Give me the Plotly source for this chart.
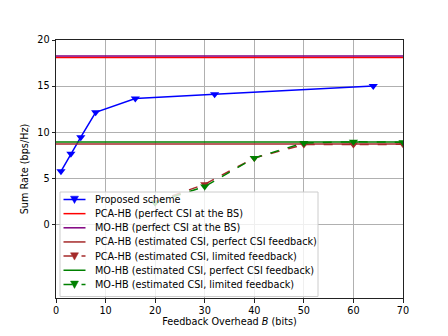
import plotly.graph_objects as go

# Data
proposed_x = [1, 3, 5, 8, 16, 32, 64]
proposed_y = [5.75, 7.65, 9.45, 12.15, 13.65, 14.1, 15.0]

pca_perfect = 18.1
mo_perfect = 18.27
pca_est_perfect = 8.72
mo_est_perfect = 8.93

limited_x = [20, 30, 40, 50, 60, 70]
pca_limited_y = [2.4, 4.35, 7.2, 8.65, 8.65, 8.68]
mo_limited_y = [2.35, 4.1, 7.2, 8.83, 8.95, 8.9]

x_range = [0, 70]
y_range = [-8, 20]
x_ticks = [0, 10, 20, 30, 40, 50, 60, 70]
y_ticks = [0, 5, 10, 15, 20]

BLUE, RED, PURPLE, BROWN, GREEN = "#0000ff", "#ff0000", "#800080", "#a52a2a", "#008000"
FS = 9.7

fig = go.Figure()
tri = dict(symbol="triangle-down", size=8)

series = [
    ("Proposed scheme", BLUE, "solid", True),
    ("PCA-HB (perfect CSI at the BS)", RED, "solid", False),
    ("MO-HB (perfect CSI at the BS)", PURPLE, "solid", False),
    ("PCA-HB (estimated CSI, perfect CSI feedback)", BROWN, "solid", False),
    ("PCA-HB (estimated CSI, limited feedback)", BROWN, "dash", True),
    ("MO-HB (estimated CSI, perfect CSI feedback)", GREEN, "solid", False),
    ("MO-HB (estimated CSI, limited feedback)", GREEN, "dash", True),
]

fig.add_trace(go.Scatter(x=proposed_x, y=proposed_y, mode="lines+markers",
                         name=series[0][0], line=dict(color=BLUE, width=1.5),
                         marker=dict(color=BLUE, **tri)))
fig.add_trace(go.Scatter(x=x_range, y=[pca_perfect] * 2, mode="lines",
                         name=series[1][0], line=dict(color=RED, width=1.5)))
fig.add_trace(go.Scatter(x=x_range, y=[mo_perfect] * 2, mode="lines",
                         name=series[2][0], line=dict(color=PURPLE, width=1.5)))
fig.add_trace(go.Scatter(x=x_range, y=[pca_est_perfect] * 2, mode="lines",
                         name=series[3][0], line=dict(color=BROWN, width=1.5)))
fig.add_trace(go.Scatter(x=limited_x, y=pca_limited_y, mode="lines+markers",
                         name=series[4][0], line=dict(color=BROWN, width=1.5, dash="dash"),
                         marker=dict(color=BROWN, **tri)))
fig.add_trace(go.Scatter(x=x_range, y=[mo_est_perfect] * 2, mode="lines",
                         name=series[5][0], line=dict(color=GREEN, width=1.5)))
fig.add_trace(go.Scatter(x=limited_x, y=mo_limited_y, mode="lines+markers",
                         name=series[6][0], line=dict(color=GREEN, width=1.5, dash="dash"),
                         marker=dict(color=GREEN, **tri)))

# Page body has an 8px default margin; compensate so the window matches the reference
OFF = 8
W, H = 448 - OFF, 336 - OFF
L, R, T, B = 56 - OFF, 403 - OFF, 40 - OFF, 298 - OFF


def px(xp):
    return (xp - OFF - L) / (R - L)


def py(yp):
    return (B - (yp - OFF)) / (B - T)


# Custom matplotlib-like legend (coordinates in window pixels)
shapes = []
annotations = []
box_l, box_r, box_t, box_b = 60, 318, 192, 296.5
shapes.append(dict(type="rect", xref="paper", yref="paper", layer="above",
                   x0=px(box_l), x1=px(box_r), y0=py(box_b), y1=py(box_t),
                   fillcolor="rgba(255,255,255,0.8)", line=dict(color="#cccccc", width=1)))
row0, row_step = 199.5, 14.15
for i, (name, color, dash, has_marker) in enumerate(series):
    yc = row0 + i * row_step
    shapes.append(dict(type="line", xref="paper", yref="paper", layer="above",
                       x0=px(63.5), x1=px(85.5), y0=py(yc), y1=py(yc),
                       line=dict(color=color, width=1.5, dash=dash)))
    if has_marker:
        cx = 74.5
        path = "M {:.5f},{:.5f} L {:.5f},{:.5f} L {:.5f},{:.5f} Z".format(
            px(cx - 4), py(yc - 3.3), px(cx + 4), py(yc - 3.3), px(cx), py(yc + 4))
        shapes.append(dict(type="path", xref="paper", yref="paper", layer="above",
                           path=path, fillcolor=color, line=dict(color=color, width=0.5)))
    annotations.append(dict(xref="paper", yref="paper", x=px(92.5), y=py(yc),
                            xanchor="left", yanchor="middle", showarrow=False,
                            text=name, font=dict(size=FS, color="black")))

axis_common = dict(showline=True, linecolor="#222222", linewidth=1, mirror=True,
                   ticks="outside", ticklen=3.5, tickcolor="#222222", tickwidth=1,
                   showgrid=True, gridcolor="#b0b0b0", gridwidth=0.8,
                   zeroline=False, automargin=False,
                   tickfont=dict(size=FS, color="black"))

fig.update_layout(
    width=W, height=H,
    margin=dict(l=L, r=W - R, t=T, b=H - B, pad=0),
    paper_bgcolor="white", plot_bgcolor="white",
    font=dict(family="DejaVu Sans", size=FS, color="black"),
    showlegend=False,
    shapes=shapes,
    annotations=annotations,
    xaxis=dict(range=x_range, tickvals=x_ticks,
               title=dict(text="Feedback Overhead <i>B</i> (bits)", font=dict(size=FS), standoff=3),
               **axis_common),
    yaxis=dict(range=y_range, tickvals=y_ticks,
               title=dict(text="Sum Rate (bps/Hz)", font=dict(size=FS), standoff=6),
               **axis_common),
)

fig.write_html("out.html")
